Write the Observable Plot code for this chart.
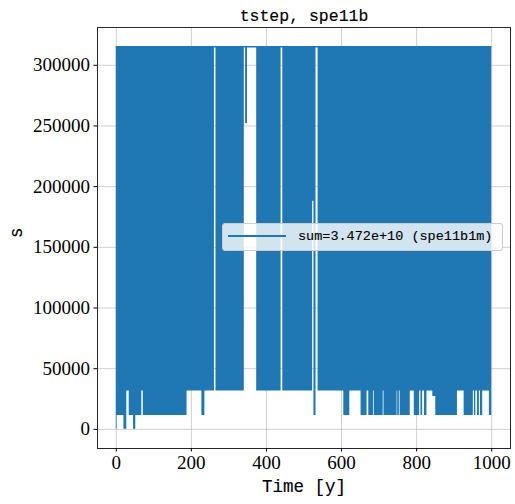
<!DOCTYPE html>
<html><head><meta charset="utf-8">
<script src="https://cdn.jsdelivr.net/npm/d3@7"></script>
<script src="https://cdn.jsdelivr.net/npm/@observablehq/plot@0.6"></script>
<style>
body{margin:0;background:#fff}
#wrap{position:relative;width:515px;height:504px}
#legend{position:absolute;left:222px;top:223px;width:279px;height:26px;background:rgba(255,255,255,0.8);border:1px solid #cccccc;border-radius:3px}
#legend .sw{position:absolute;left:5px;top:11px;width:58px;height:2px;background:#1f77b4}
#legend .lb{position:absolute;left:75px;top:4px;font-family:"Liberation Mono",monospace;font-size:13.5px;line-height:18px;color:#000;white-space:pre;-webkit-text-stroke:0.12px #000}
</style></head><body><div id="wrap"></div>
<script>
const title = "tstep, spe11b";
const xLabel = "Time [y]";
const yLabel = "s";
const legendLabel = "sum=3.472e+10 (spe11b1m)";
const xTicks = [0, 200, 400, 600, 800, 1000];
const yTicks = [0, 50000, 100000, 150000, 200000, 250000, 300000];
const maxStep = 315360;

// Time step oscillates between a low value and maxStep.
// stepTime: start of each stretch (years); stepLow: lowest step in that stretch (s).
// A stretch whose low equals maxStep stays at the maximum (white gap).
const stepTime = [0, 2, 20.4, 28, 34.5, 46, 52, 68, 72, 188.5, 228, 236, 261.5, 265.5, 341, 344.5, 349.5, 374, 439, 443.5, 523, 526.5, 532, 537.5, 606, 622, 652, 668, 672.5, 685, 687, 711, 713, 748, 749.5, 754, 756, 783, 793.7, 808, 811.5, 816, 821, 827.5, 843, 851, 908.7, 926.5, 951, 954, 957.6, 962, 967, 970, 976, 993.7, 1000];
const stepLow  = [0, 11500, 0, 31536, 11500, 0, 11500, 31536, 11500, 31536, 11500, 31536, 315360, 31536, 315360, 252000, 315360, 31536, 315360, 31536, 188000, 11500, 315360, 31536, 11500, 31536, 11500, 31536, 11500, 31536, 11500, 31536, 11500, 31536, 11500, 31536, 11500, 31536, 11500, 31536, 11500, 31536, 11500, 31536, 27000, 11500, 31536, 11500, 31536, 11500, 31536, 11500, 31536, 11500, 31536, 11500, 11500];

const steps = stepTime.map((t, i) => ({t, low: stepLow[i], high: maxStep}));
const tStart = stepTime[0], tEnd = stepTime[stepTime.length - 1];

const blue = "#1f77b4";
const mono = "'Liberation Mono', monospace";
const chart = Plot.plot({
  width: 515, height: 504,
  marginLeft: 97, marginRight: 5, marginTop: 27, marginBottom: 56,
  x: {domain: [-50, 1050]},
  y: {domain: [-15768, 331128]},
  style: {fontFamily: "'Liberation Serif', serif", fontSize: "19px", background: "#fff", color: "#000"},
  marks: [
    Plot.gridX(xTicks, {stroke: "#b0b0b0", strokeOpacity: 0.6, strokeWidth: 1}),
    Plot.gridY(yTicks, {stroke: "#b0b0b0", strokeOpacity: 0.6, strokeWidth: 1}),
    Plot.areaY(steps, {x: "t", y1: "low", y2: "high", curve: "step-after", fill: blue}),
    Plot.ruleY([maxStep], {x1: tStart, x2: tEnd, stroke: blue, strokeWidth: 1.5}),
    Plot.frame({stroke: "#262626", strokeWidth: 1}),
    Plot.axisX(xTicks, {tickSize: 3.5, tickPadding: 3, label: null, fontSize: 19, tickFormat: d => String(d)}),
    Plot.axisY(yTicks, {tickSize: 3.5, tickPadding: 4, label: null, fontSize: 19, tickFormat: d => String(d)}),
    Plot.text([title], {frameAnchor: "top", dy: -18, fontFamily: mono, fontSize: 16.5, fill: "#000", stroke: "#000", strokeWidth: 0.15}),
    Plot.text([xLabel], {frameAnchor: "bottom", dy: 43, fontFamily: mono, fontSize: 17.5, fill: "#000", stroke: "#000", strokeWidth: 0.15}),
    Plot.text([yLabel], {frameAnchor: "left", dx: -81, rotate: -90, fontFamily: mono, fontSize: 17.5, fill: "#000", stroke: "#000", strokeWidth: 0.15})
  ]
});
const wrap = document.getElementById("wrap");
wrap.appendChild(chart);
const lg = document.createElement("div");
lg.id = "legend";
lg.innerHTML = '<div class="sw"></div><div class="lb"></div>';
lg.querySelector(".lb").textContent = legendLabel;
wrap.appendChild(lg);
</script>
</body></html>
